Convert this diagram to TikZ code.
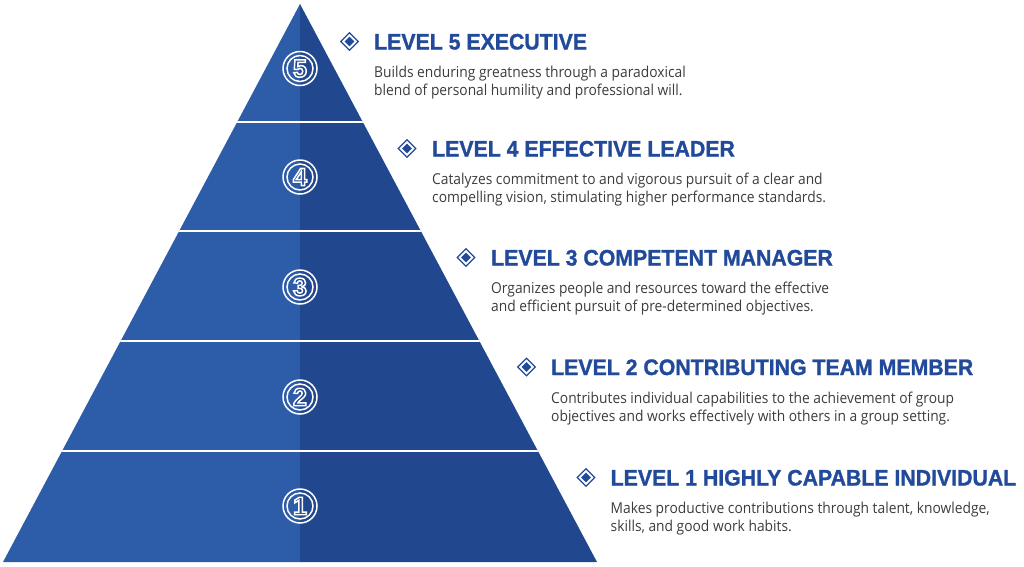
\documentclass[tikz,border=0pt]{standalone}
\usepackage{fontspec}
\setmainfont{Open Sans}
\newfontfamily\headfont[FakeStretch=0.95,FakeBold=1.2]{Liberation Sans Bold}
\newfontfamily\digitfont[FakeBold=6]{Liberation Sans Bold}
\newfontfamily\bodyfont[FakeStretch=0.92]{Open Sans}
\usetikzlibrary{shapes.geometric}

\definecolor{pyrlight}{RGB}{45,92,168}
\definecolor{pyrdark}{RGB}{33,72,143}
\definecolor{headblue}{RGB}{34,74,154}
\definecolor{bodygray}{RGB}{60,60,60}

% blue digit with a white outline
\newcommand{\rankdigit}[1]{\special{pdf:code 1 1 1 RG}#1}

\tikzset{
  rank/.style={shape=circle,draw=white,line width=1.5pt,minimum size=26pt,inner sep=0pt,
    text=pyrdark,font=\digitfont\fontsize{25}{25}\selectfont},
  bulletout/.style={shape=diamond,draw=headblue,line width=1.2pt,fill=white,minimum size=18pt,inner sep=0pt},
  bulletin/.style={shape=diamond,fill=headblue,minimum size=10pt,inner sep=0pt},
  lvlhead/.style={anchor=base west,inner sep=0pt,text=headblue,
    font=\headfont\fontsize{22.4}{24}\selectfont},
  lvlbody/.style={anchor=base west,inner sep=0pt,text=bodygray,align=left,
    font=\bodyfont\fontsize{15}{18}\selectfont}
}

\begin{document}
\begin{tikzpicture}[x=1pt,y=-1pt]
\useasboundingbox (0,0) rectangle (1024,566);

% pyramid
\fill[pyrlight] (300,4) -- (3,562) -- (300,562) -- cycle;
\fill[pyrdark] (300,4) -- (597,562) -- (300,562) -- cycle;
\begin{scope}
\clip (300,4) -- (3,562) -- (597,562) -- cycle;
\foreach \y in {121.5,231,341,450.5}
  \draw[white,line width=2pt] (0,\y) -- (600,\y);
\end{scope}

% level numbers
\foreach \n/\y in {5/68.5,4/177,3/287,2/397,1/506}{
  \node[rank] (c\n) at (300,\y) {\rankdigit{\n}};
  \draw[white,line width=1.5pt] (c\n.center) circle (17);
}

% level 5
\node[bulletout] (d5) at (349.5,41.5) {};
\node[bulletin] (f5) at (d5) {};
\node[lvlhead] (h5) at (374,49.5) {LEVEL 5 EXECUTIVE};
\node[lvlbody] (b5) at (374,95) {Builds enduring greatness through a paradoxical\\blend of personal humility and professional will.};

% level 4
\node[bulletout] (d4) at (407,148.5) {};
\node[bulletin] (f4) at (d4) {};
\node[lvlhead] (h4) at (432,156.5) {LEVEL 4 EFFECTIVE LEADER};
\node[lvlbody] (b4) at (432,202.5) {Catalyzes commitment to and vigorous pursuit of a clear and\\compelling vision, stimulating higher performance standards.};

% level 3
\node[bulletout] (d3) at (466,257.5) {};
\node[bulletin] (f3) at (d3) {};
\node[lvlhead] (h3) at (491,265.5) {LEVEL 3 COMPETENT MANAGER};
\node[lvlbody] (b3) at (491,311.5) {Organizes people and resources toward the effective\\and efficient pursuit of pre-determined objectives.};

% level 2
\node[bulletout] (d2) at (526.5,367) {};
\node[bulletin] (f2) at (d2) {};
\node[lvlhead] (h2) at (551,375) {LEVEL 2 CONTRIBUTING TEAM MEMBER};
\node[lvlbody] (b2) at (551,421) {Contributes individual capabilities to the achievement of group\\objectives and works effectively with others in a group setting.};

% level 1
\node[bulletout] (d1) at (586,477.5) {};
\node[bulletin] (f1) at (d1) {};
\node[lvlhead] (h1) at (610.5,485.5) {LEVEL 1 HIGHLY CAPABLE INDIVIDUAL};
\node[lvlbody] (b1) at (610.5,531.5) {Makes productive contributions through talent, knowledge,\\skills, and good work habits.};
\end{tikzpicture}
\end{document}
